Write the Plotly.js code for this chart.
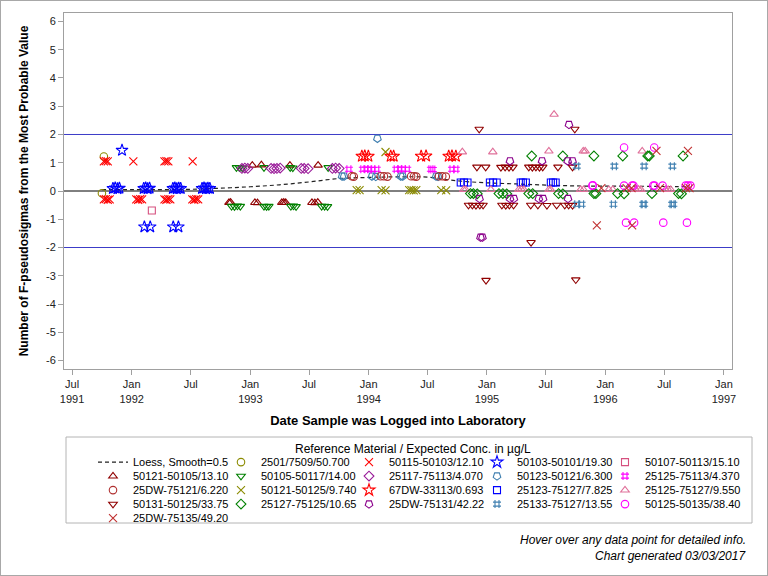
<!DOCTYPE html>
<html><head><meta charset="utf-8">
<script src="https://cdn.plot.ly/plotly-3.0.1.min.js"></script>
<style>
html,body{margin:0;padding:0;background:#fff;}
#chart{position:absolute;left:0;top:0;width:768px;height:576px;}
#frame{position:absolute;left:0;top:0;width:768px;height:576px;box-sizing:border-box;border:1px solid #a8a8a8;pointer-events:none;}
</style>
</head><body>
<div id="chart"></div><div id="frame"></div>
<script>
// ---------------- data ----------------
const loessX = ['1991-10-01','1992-01-01','1992-04-01','1992-07-01','1992-10-01','1993-01-01','1993-04-01','1993-07-01','1993-10-01','1994-01-01','1994-04-01','1994-07-01','1994-10-01','1995-01-01','1995-04-01','1995-07-01','1995-10-01','1996-01-01','1996-04-01','1996-07-01','1996-09-12'];
const loessY = [0.05,0.05,0.05,0.06,0.10,0.15,0.22,0.32,0.44,0.48,0.50,0.49,0.36,0.29,0.25,0.21,0.18,0.17,0.17,0.16,0.15];

const m2501X = ['1991-10-07','1991-10-01'];
const m2501Y = [1.22,-0.08];

const m50115X = ['1991-10-07','1991-10-13','1991-10-19','1992-01-06','1992-04-11','1992-04-17','1992-04-23','1992-07-07',
  '1991-10-07','1991-10-13','1991-10-19','1991-10-25','1992-01-15','1992-01-21','1992-01-27','1992-02-02',
  '1992-04-11','1992-04-17','1992-04-23','1992-04-29','1992-07-06','1992-07-12','1992-07-18','1992-07-24'];
const m50115Y = [1.05,1.06,1.05,1.05,1.05,1.06,1.05,1.05,
  -0.30,-0.29,-0.31,-0.30,-0.30,-0.31,-0.29,-0.30,
  -0.30,-0.31,-0.29,-0.30,-0.30,-0.31,-0.29,-0.30];

const m50103X = ['1991-11-04','1991-11-11','1991-11-18','1991-11-24','1991-12-02',
  '1992-02-07','1992-02-13','1992-02-19','1992-02-25','1992-02-09','1992-02-27',
  '1992-05-07','1992-05-13','1992-05-19','1992-05-25','1992-05-31','1992-05-08','1992-05-24',
  '1992-08-05','1992-08-11','1992-08-17','1992-08-23','1992-08-29'];
const m50103Y = [0.09,0.11,0.08,0.10,1.44,
  0.09,0.11,0.08,0.10,-1.27,-1.27,
  0.09,0.11,0.08,0.10,0.09,-1.27,-1.27,
  0.09,0.11,0.08,0.10,0.09];

const m50107X = ['1992-03-03'];
const m50107Y = [-0.69];

const m50121aX = ['1993-01-07','1993-02-04','1993-05-03','1993-07-29',
  '1992-10-27','1992-11-01','1993-01-15','1993-01-23','1993-04-08','1993-04-14','1993-04-20',
  '1993-07-10','1993-07-19','1993-07-28'];
const m50121aY = [0.91,0.92,0.91,0.91,
  -0.41,-0.40,-0.41,-0.42,-0.41,-0.40,-0.41,-0.41,-0.42,-0.40];

const m50105X = ['1992-11-19','1992-11-28','1992-12-07','1993-02-12','1993-05-04','1993-05-12','1993-08-29',
  '1992-11-04','1992-11-13','1992-11-22','1992-12-01','1993-02-12','1993-02-20','1993-02-27',
  '1993-05-06','1993-05-14','1993-05-22','1993-08-09','1993-08-18','1993-08-27'];
const m50105Y = [0.83,0.83,0.82,0.83,0.83,0.82,0.83,
  -0.54,-0.55,-0.53,-0.54,-0.54,-0.55,-0.54,-0.54,-0.53,-0.55,-0.54,-0.54,-0.55];

const m25117X = ['1992-12-06','1992-12-15','1992-12-24','1993-03-06','1993-03-15','1993-03-24','1993-04-03',
  '1993-06-07','1993-06-16','1993-06-28','1993-09-11','1993-09-21','1993-10-02'];
const m25117Y = [0.80,0.81,0.80,0.80,0.79,0.80,0.81,0.80,0.80,0.79,0.80,0.81,0.80];

const m50123X = ['1993-10-11','1993-10-17','1994-01-11','1994-01-23','1994-01-28','1994-04-10','1994-04-16','1994-07-28','1994-08-03'];
const m50123Y = [0.52,0.52,0.52,0.51,1.86,0.52,0.52,0.52,0.51];

const m25125aX = ['1993-11-01','1993-12-14','1993-12-24','1994-01-04','1994-01-14','1994-01-26',
  '1994-03-27','1994-04-07','1994-04-18','1994-04-30','1994-07-12','1994-07-18','1994-09-15','1994-09-27'];
const m25125aY = [0.77,0.77,0.78,0.77,0.76,0.77,0.77,0.78,0.77,0.77,0.77,0.76,0.77,0.77];

const m25DW75121X = ['1993-11-10','1993-11-16','1994-02-07','1994-02-17','1994-02-28','1994-05-12','1994-05-21','1994-05-28',
  '1994-08-06','1994-08-16','1994-08-27'];
const m25DW75121Y = [0.52,0.51,0.52,0.52,0.51,0.52,0.52,0.51,0.52,0.52,0.51];

const m50121bX = ['1993-11-25','1993-12-04','1994-02-10','1994-02-22','1994-02-22','1994-05-06','1994-05-13','1994-05-20','1994-05-28',
  '1994-08-13','1994-08-28'];
const m50121bY = [0.03,0.03,0.03,0.02,1.38,0.03,0.03,0.02,0.03,0.03,0.02];

const m67DWX = ['1993-12-11','1993-12-20','1993-12-31','1994-03-10','1994-03-19','1994-06-12','1994-06-27',
  '1994-09-05','1994-09-15','1994-09-27'];
const m67DWY = [1.23,1.24,1.23,1.23,1.23,1.23,1.24,1.23,1.24,1.23];

const m25123X = ['1994-10-12','1994-10-22','1994-11-02','1995-01-10','1995-01-20','1995-01-31',
  '1995-04-15','1995-04-22','1995-05-01','1995-07-17','1995-07-24','1995-08-01'];
const m25123Y = [0.30,0.30,0.30,0.30,0.30,0.30,0.30,0.30,0.30,0.30,0.30,0.30];

const m25125bX = ['1994-10-17','1995-01-19','1995-07-11','1995-10-25','1995-10-31','1996-04-24','1995-07-27',
  '1994-10-21','1994-10-27','1995-01-13','1995-04-09','1995-04-17','1995-04-25','1995-07-11','1995-07-17',
  '1995-10-17','1995-10-26','1996-01-12','1996-01-24','1996-04-04','1996-04-13','1996-04-20',
  '1996-07-05','1996-07-13','1996-07-21'];
const m25125bY = [1.38,1.38,1.41,1.41,1.41,1.41,2.71,
  0.05,0.05,0.05,0.05,0.06,0.05,0.05,0.05,0.05,0.05,0.05,0.05,0.05,0.06,0.05,0.05,0.05,0.05];

const m50131X = ['1994-12-08','1995-09-29','1994-12-01','1994-12-28',
  '1995-02-13','1995-02-26','1995-03-10','1995-03-22','1995-05-10','1995-05-21','1995-06-01','1995-06-12','1995-06-22',
  '1995-08-08','1995-09-22',
  '1994-11-05','1994-11-17','1994-11-28','1994-12-10','1994-12-20',
  '1995-02-16','1995-02-28','1995-03-11','1995-03-24','1995-05-16','1995-06-07','1995-07-05','1995-08-04',
  '1995-08-29','1995-09-10','1995-09-22','1995-05-17','1994-12-29','1995-10-02'];
const m50131Y = [2.19,2.19,0.85,0.85,
  0.84,0.85,0.84,0.85,0.85,0.84,0.85,0.84,0.85,0.85,0.85,
  -0.50,-0.50,-0.51,-0.50,-0.50,
  -0.50,-0.51,-0.50,-0.50,-0.50,-0.50,-0.51,-0.50,-0.50,-0.50,-0.51,-1.82,-3.16,-3.14];

const m25127X = ['1994-11-11','1994-11-20','1994-12-02','1995-02-07','1995-02-19','1995-03-03','1995-05-10','1995-05-22',
  '1995-08-10','1995-08-23','1995-11-27','1995-12-03','1996-02-08','1996-02-28','1996-05-24','1996-08-14','1996-08-23',
  '1995-05-19','1995-08-23','1995-11-27','1996-02-24','1996-05-11','1996-05-16','1996-08-28'];
const m25127Y = [-0.09,-0.09,-0.10,-0.09,-0.09,-0.10,-0.09,-0.09,-0.09,-0.10,-0.09,-0.09,-0.09,-0.10,-0.09,-0.09,-0.10,
  1.24,1.24,1.24,1.24,1.24,1.24,1.24];

const m25DW75131X = ['1994-12-09','1994-12-12','1994-12-18','1995-03-13','1995-03-13','1995-03-25',
  '1995-06-20','1995-06-10','1995-06-23','1995-09-07','1995-09-22','1995-09-08','1995-09-11'];
const m25DW75131Y = [-0.27,-1.64,-1.64,1.06,-0.27,-0.27,1.06,-0.27,-0.27,1.06,1.06,-0.27,2.35];

const m25133X = ['1995-10-05','1996-01-29','1996-04-30','1996-07-26','1995-10-05','1995-10-20','1996-01-26','1996-04-27','1996-04-30','1996-07-25','1996-07-29'];
const m25133Y = [0.88,0.88,0.88,0.88,-0.47,-0.47,-0.47,-0.47,-0.47,-0.47,-0.47];

const m50125X = ['1996-02-28','1996-05-31','1995-11-22','1995-11-24','1996-02-28','1996-03-24','1996-03-28','1996-05-28','1996-06-01',
  '1996-06-26','1996-09-05','1996-09-12','1996-09-20','1996-03-05','1996-03-30','1996-06-28','1996-09-09'];
const m50125Y = [1.54,1.54,0.19,0.20,0.19,0.19,0.19,0.19,0.19,0.19,0.19,0.19,0.19,-1.12,-1.12,-1.12,-1.12];

const m25DW75135X = ['1995-12-20','1996-03-07','1996-03-22','1996-06-18','1996-09-06','1996-09-17','1996-06-07','1996-09-12','1995-12-06','1996-03-24'];
const m25DW75135Y = [0.10,0.10,0.10,0.10,0.10,0.10,1.42,1.42,-1.22,-1.22];

const yTickVals = [6,5,4,3,2,1,0,-1,-2,-3,-4,-5,-6];
const yTickText = ['6','5','4','3','2','1','0','-1','-2','-3','-4','-5','-6'];
const xTickVals = ['1991-07-01','1992-01-01','1992-07-01','1993-01-01','1993-07-01','1994-01-01','1994-07-01','1995-01-01','1995-07-01','1996-01-01','1996-07-01','1997-01-01'];
const xTickText = ['Jul<br>1991','Jan<br>1992','Jul','Jan<br>1993','Jul','Jan<br>1994','Jul','Jan<br>1995','Jul','Jan<br>1996','Jul','Jan<br>1997'];

// ---------------- styling ----------------
const FONT = 'Liberation Sans, Arial, sans-serif';
function pts(name, x, y, symbol, color, size, angle) {
  return {type:'scatter', mode:'markers', name:name, x:x, y:y,
    marker:{symbol:symbol, color:color, size:size, angle:angle||0, line:{width:1.1, color:color}},
    hovertemplate:'%{x|%b %d, %Y}<br>%{y:.2f}<extra>'+name+'</extra>'};
}
const traces = [
  {type:'scatter', mode:'lines', name:'Loess, Smooth=0.5', x:loessX, y:loessY, line:{color:'#222222', dash:'4px,3px', width:1.2, shape:'spline'}, hoverinfo:'skip'},
  pts('2501/7509/50.700', m2501X, m2501Y, 'circle-open', '#8b8b00', 7.5),
  pts('50115-50103/12.10', m50115X, m50115Y, 'x-thin-open', '#ff0000', 8),
  pts('50103-50101/19.30', m50103X, m50103Y, 'star-open', '#0000ff', 9),
  pts('50107-50113/15.10', m50107X, m50107Y, 'square-open', '#d6507f', 7),
  pts('50121-50105/13.10', m50121aX, m50121aY, 'triangle-up-open', '#900000', 7.5),
  pts('50105-50117/14.00', m50105X, m50105Y, 'triangle-down-open', '#008000', 7.5),
  pts('25117-75113/4.070', m25117X, m25117Y, 'diamond-open', '#991a99', 7.5),
  pts('50123-50121/6.300', m50123X, m50123Y, 'pentagon-open', '#3f7fb0', 8, 180),
  pts('25125-75113/4.370', m25125aX, m25125aY, 'hash-open', '#ff00ff', 8),
  pts('25DW-75121/6.220', m25DW75121X, m25DW75121Y, 'circle-open', '#b03030', 7.5),
  pts('50121-50125/9.740', m50121bX, m50121bY, 'x-thin-open', '#8b8b00', 8),
  pts('67DW-33113/0.693', m67DWX, m67DWY, 'star-open', '#ff0000', 9),
  pts('25123-75127/7.825', m25123X, m25123Y, 'square-open', '#0000ff', 7),
  pts('25125-75127/9.550', m25125bX, m25125bY, 'triangle-up-open', '#e0709a', 7.5),
  pts('50131-50125/33.75', m50131X, m50131Y, 'triangle-down-open', '#900000', 7.5),
  pts('25127-75125/10.65', m25127X, m25127Y, 'diamond-open', '#008000', 7.5),
  pts('25DW-75131/42.22', m25DW75131X, m25DW75131Y, 'pentagon-open', '#8b008b', 8, 180),
  pts('25133-75127/13.55', m25133X, m25133Y, 'hash-open', '#3f7fb0', 8),
  pts('50125-50135/38.40', m50125X, m50125Y, 'circle-open', '#ff00ff', 7.5),
  pts('25DW-75135/49.20', m25DW75135X, m25DW75135Y, 'x-thin-open', '#c03030', 8)
];

const PL = 64, PR = 732, PT = 13, PB = 369;
const pw = PR - PL, ph = PB - PT;
function px2x(p){ return (p - PL) / pw; }
function px2y(p){ return (PB - p) / ph; }

const axisCommon = {
  showgrid:false, zeroline:false, ticks:'outside', ticklen:5, tickcolor:'#a0a0a0', tickwidth:1,
  tickfont:{family:FONT, size:11, color:'#222'}
};

const layout = {
  width:768, height:576,
  margin:{l:PL, r:768-PR, t:PT, b:576-PB, pad:0},
  paper_bgcolor:'#ffffff', plot_bgcolor:'#ffffff',
  font:{family:FONT, size:11, color:'#000'},
  showlegend:true,
  xaxis:Object.assign({}, axisCommon, {
    type:'date', range:['1991-06-06','1997-01-26'], tickvals:xTickVals, ticktext:xTickText,
    showline:true, linecolor:'#a0a0a0', linewidth:1, mirror:true,
    title:{text:'Date Sample was Logged into Laboratory', font:{family:FONT, size:13, color:'#000', weight:'bold'}, standoff:12}
  }),
  yaxis:Object.assign({}, axisCommon, {
    range:[-6.3,6.3], tickvals:yTickVals, ticktext:yTickText,
    showline:true, linecolor:'#a0a0a0', linewidth:1, mirror:true,
    title:{text:'Number of F-pseudosigmas from the Most Probable Value', font:{family:FONT, size:12, color:'#000', weight:'bold'}, standoff:14}
  }),
  yaxis2:Object.assign({}, axisCommon, {
    overlaying:'y', side:'right', anchor:'x', range:[-6.3,6.3], tickvals:yTickVals, ticktext:yTickText, showline:false
  }),
  shapes:[
    {type:'line', xref:'paper', yref:'y', x0:0, x1:1, y0:2, y1:2, line:{color:'#3c3cc8', width:1}, layer:'below'},
    {type:'line', xref:'paper', yref:'y', x0:0, x1:1, y0:-2, y1:-2, line:{color:'#3c3cc8', width:1}, layer:'below'},
    {type:'line', xref:'paper', yref:'y', x0:0, x1:1, y0:0, y1:0, line:{color:'#000000', width:1}, layer:'below'},
    {type:'rect', xref:'paper', yref:'paper', x0:px2x(66), x1:px2x(752), y0:px2y(523), y1:px2y(437), line:{color:'#b4b4b4', width:1}, fillcolor:'rgba(0,0,0,0)', layer:'below'}
  ],
  legend:{
    orientation:'h', x:px2x(93), xanchor:'left', y:px2y(437), yanchor:'top',
    entrywidth:83, entrywidthmode:'pixels', traceorder:'normal', itemsizing:'trace',
    bgcolor:'rgba(0,0,0,0)', borderwidth:0,
    font:{family:FONT, size:11, color:'#000'},
    title:{text:'Reference Material / Expected Conc. in µg/L', side:'top center', font:{family:FONT, size:12, color:'#000'}}
  },
  annotations:[
    {xref:'paper', yref:'paper', x:px2x(748), y:px2y(540), xanchor:'right', yanchor:'middle', showarrow:false,
     text:'<i>Hover over any data point for detailed info.</i>', font:{family:FONT, size:12, color:'#000'}},
    {xref:'paper', yref:'paper', x:px2x(748), y:px2y(556), xanchor:'right', yanchor:'middle', showarrow:false,
     text:'<i>Chart generated 03/03/2017</i>', font:{family:FONT, size:12, color:'#000'}}
  ]
};

// Tighten legend rows to the reference's 14px pitch and let the last column's text show in full.
function tightenLegend(gd) {
  const items = Array.from(gd.querySelectorAll('.legend .traces'));
  const rows = [];
  items.forEach(function(el) {
    const m = /translate\(\s*([-\d.e]+)[ ,]+([-\d.e]+)\s*\)/.exec(el.getAttribute('transform') || '');
    if (!m) return;
    const y = parseFloat(m[2]);
    if (rows.indexOf(y) < 0) rows.push(y);
    el._lx = parseFloat(m[1]); el._ly = y;
  });
  rows.sort(function(a, b){ return a - b; });
  items.forEach(function(el) {
    if (el._ly === undefined) return;
    const k = rows.indexOf(el._ly);
    el.setAttribute('transform', 'translate(' + el._lx + ',' + (rows[0] - 5 + k * 14) + ')');
  });
  gd.querySelectorAll('clipPath[id^="legend"] rect').forEach(function(r) {
    const w = parseFloat(r.getAttribute('width') || '0');
    r.setAttribute('width', w + 60);
  });
}

Plotly.newPlot('chart', traces, layout, {displayModeBar:false, responsive:false}).then(tightenLegend);
</script>
</body></html>
